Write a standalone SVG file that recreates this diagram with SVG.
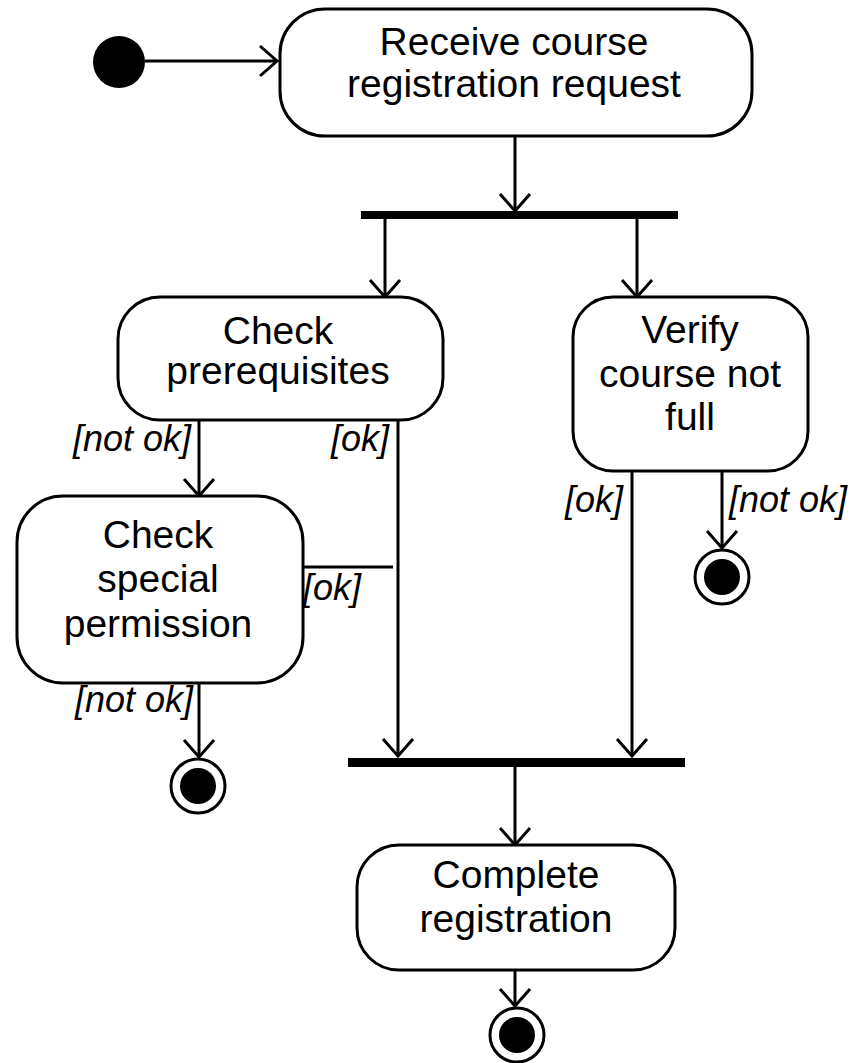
<svg xmlns="http://www.w3.org/2000/svg" width="854" height="1063" viewBox="0 0 854 1063">
  <style>
    .act { fill: #ffffff; stroke: #000000; stroke-width: 3; }
    .bar { fill: #000000; }
    .flow { fill: none; stroke: #000000; stroke-width: 3; }
    .label { font-family: "Liberation Sans", Arial, sans-serif; font-size: 39px; fill: #000000; text-anchor: middle; }
    .guard { font-family: "Liberation Sans", Arial, sans-serif; font-size: 36px; font-style: italic; fill: #000000; }
    .final-ring { fill: #ffffff; stroke: #000000; stroke-width: 3; }
  </style>
  <defs>
    <marker id="open-arrow" markerUnits="userSpaceOnUse" viewBox="-20 -18 22 36" refX="0" refY="0" markerWidth="22" markerHeight="36" orient="auto" overflow="visible">
      <path d="M-17,-15 L0,0 L-17,15" fill="none" stroke="#000000" stroke-width="3"/>
    </marker>
  </defs>

  <rect width="854" height="1063" fill="#ffffff"/>

  <!-- connectors -->
  <g id="connectors" class="flow">
    <path d="M145,61 H277" marker-end="url(#open-arrow)"/>
    <path d="M515,136 V211" marker-end="url(#open-arrow)"/>
    <path d="M385,219 V297" marker-end="url(#open-arrow)"/>
    <path d="M637,219 V297" marker-end="url(#open-arrow)"/>
    <path d="M199,420 V496" marker-end="url(#open-arrow)"/>
    <path d="M398,420 V756" marker-end="url(#open-arrow)"/>
    <path d="M303,567 H393"/>
    <path d="M199,683 V757" marker-end="url(#open-arrow)"/>
    <path d="M632,472 V756" marker-end="url(#open-arrow)"/>
    <path d="M722,472 V548" marker-end="url(#open-arrow)"/>
    <path d="M515,767 V845" marker-end="url(#open-arrow)"/>
    <path d="M515,970 V1006" marker-end="url(#open-arrow)"/>
  </g>

  <!-- guard labels -->
  <g id="guards">
    <text class="guard" x="191" y="451" text-anchor="end">[not ok]</text>
    <text class="guard" x="389" y="451" text-anchor="end">[ok]</text>
    <text class="guard" x="303" y="600">[ok]</text>
    <text class="guard" x="193" y="712" text-anchor="end">[not ok]</text>
    <text class="guard" x="623" y="512" text-anchor="end">[ok]</text>
    <text class="guard" x="729" y="512">[not ok]</text>
  </g>

  <!-- start -->
  <g id="start">
    <circle cx="119" cy="62" r="26" fill="#000000"/>
  </g>

  <!-- actions -->
  <g id="receive-request">
    <rect class="act" x="280" y="9" width="472" height="127" rx="45" ry="45"/>
    <text class="label" x="514" y="55">Receive course</text>
    <text class="label" x="514" y="97">registration request</text>
  </g>

  <g id="fork">
    <rect class="bar" x="361" y="211" width="317" height="8"/>
  </g>

  <g id="check-prerequisites">
    <rect class="act" x="118" y="297" width="325" height="123" rx="42" ry="42"/>
    <text class="label" x="278" y="344">Check</text>
    <text class="label" x="278" y="384">prerequisites</text>
  </g>

  <g id="verify-not-full">
    <rect class="act" x="573" y="297" width="235" height="174" rx="40" ry="40"/>
    <text class="label" x="690" y="343">Verify</text>
    <text class="label" x="690" y="387">course not</text>
    <text class="label" x="690" y="430">full</text>
  </g>

  <g id="check-special-permission">
    <rect class="act" x="17" y="496" width="286" height="187" rx="46" ry="46"/>
    <text class="label" x="158" y="548">Check</text>
    <text class="label" x="158" y="592">special</text>
    <text class="label" x="158" y="637">permission</text>
  </g>

  <g id="end-rejected-permission">
    <circle class="final-ring" cx="198" cy="786" r="27"/>
    <circle cx="198" cy="786" r="18" fill="#000000"/>
  </g>

  <g id="end-course-full">
    <circle class="final-ring" cx="722" cy="577" r="27"/>
    <circle cx="722" cy="577" r="18" fill="#000000"/>
  </g>

  <g id="join">
    <rect class="bar" x="348" y="758" width="337" height="9"/>
  </g>

  <g id="complete-registration">
    <rect class="act" x="357" y="845" width="318" height="125" rx="42" ry="42"/>
    <text class="label" x="516" y="888">Complete</text>
    <text class="label" x="516" y="932">registration</text>
  </g>

  <g id="end-complete">
    <circle class="final-ring" cx="517" cy="1035" r="27"/>
    <circle cx="517" cy="1035" r="18" fill="#000000"/>
  </g>
</svg>
